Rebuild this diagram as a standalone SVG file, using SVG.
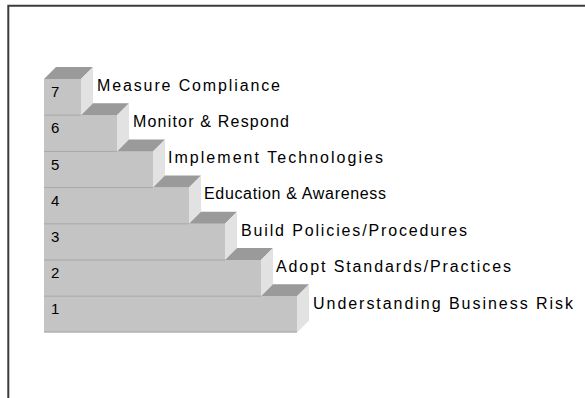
<svg xmlns="http://www.w3.org/2000/svg" width="585" height="398" viewBox="0 0 585 398">
<style>
.front{fill:#c4c4c4}
.top{fill:#9a9a9a}
.side{fill:#e2e2e2}
.sep{stroke:#a6a6a6;stroke-width:1}
.num{font-family:"Liberation Sans",Arial,sans-serif;font-size:15px;fill:#000}
.lbl{font-family:"Liberation Sans",Arial,sans-serif;font-size:16px;fill:#000}
.frame{stroke:#3c3c3c;stroke-width:2;fill:none}
</style>
<rect width="585" height="398" fill="#fff"/>
<path class="frame" d="M8.3,398 V5.7 H585"/>
<g id="step7">
<rect class="front" x="44" y="79" width="37" height="36.2"/>
<polygon class="top" points="44,79 56,67 93,67 81,79"/>
<polygon class="side" points="81,79 93,67 93,103.2 81,115.2"/>
<text class="num" x="51" y="97">7</text>
<text class="lbl" x="97" y="91" textLength="183" lengthAdjust="spacing">Measure Compliance</text>
</g>
<g id="step6">
<rect class="front" x="44" y="115.2" width="73" height="36.2"/>
<polygon class="top" points="81,115.2 93,103.2 129,103.2 117,115.2"/>
<polygon class="side" points="117,115.2 129,103.2 129,139.4 117,151.4"/>
<line class="sep" x1="44" y1="115.2" x2="81" y2="115.2"/>
<text class="num" x="51" y="133">6</text>
<text class="lbl" x="133" y="127" textLength="156" lengthAdjust="spacing">Monitor &amp; Respond</text>
</g>
<g id="step5">
<rect class="front" x="44" y="151.4" width="109" height="36.2"/>
<polygon class="top" points="117,151.4 129,139.4 165,139.4 153,151.4"/>
<polygon class="side" points="153,151.4 165,139.4 165,175.6 153,187.6"/>
<line class="sep" x1="44" y1="151.4" x2="117" y2="151.4"/>
<text class="num" x="51" y="169.5">5</text>
<text class="lbl" x="168" y="163" textLength="215" lengthAdjust="spacing">Implement Technologies</text>
</g>
<g id="step4">
<rect class="front" x="44" y="187.6" width="145" height="36.2"/>
<polygon class="top" points="153,187.6 165,175.6 201,175.6 189,187.6"/>
<polygon class="side" points="189,187.6 201,175.6 201,211.8 189,223.8"/>
<line class="sep" x1="44" y1="187.6" x2="153" y2="187.6"/>
<text class="num" x="51" y="205.5">4</text>
<text class="lbl" x="204" y="199" textLength="182" lengthAdjust="spacing">Education &amp; Awareness</text>
</g>
<g id="step3">
<rect class="front" x="44" y="223.8" width="181" height="36.2"/>
<polygon class="top" points="189,223.8 201,211.8 237,211.8 225,223.8"/>
<polygon class="side" points="225,223.8 237,211.8 237,248 225,260"/>
<line class="sep" x1="44" y1="223.8" x2="189" y2="223.8"/>
<text class="num" x="51" y="242">3</text>
<text class="lbl" x="241" y="236" textLength="226" lengthAdjust="spacing">Build Policies/Procedures</text>
</g>
<g id="step2">
<rect class="front" x="44" y="260" width="217" height="36.2"/>
<polygon class="top" points="225,260 237,248 273,248 261,260"/>
<polygon class="side" points="261,260 273,248 273,284.2 261,296.2"/>
<line class="sep" x1="44" y1="260" x2="225" y2="260"/>
<text class="num" x="51" y="278">2</text>
<text class="lbl" x="276" y="272" textLength="235" lengthAdjust="spacing">Adopt Standards/Practices</text>
</g>
<g id="step1">
<rect class="front" x="44" y="296.2" width="253" height="36.2"/>
<polygon class="top" points="261,296.2 273,284.2 309,284.2 297,296.2"/>
<polygon class="side" points="297,296.2 309,284.2 309,320.4 297,332.4"/>
<line class="sep" x1="44" y1="296.2" x2="261" y2="296.2"/>
<line class="sep" x1="44" y1="332" x2="297" y2="332"/>
<text class="num" x="51" y="314">1</text>
<text class="lbl" x="313" y="309" textLength="260" lengthAdjust="spacing">Understanding Business Risk</text>
</g>
<g id="connectors"/>
</svg>
